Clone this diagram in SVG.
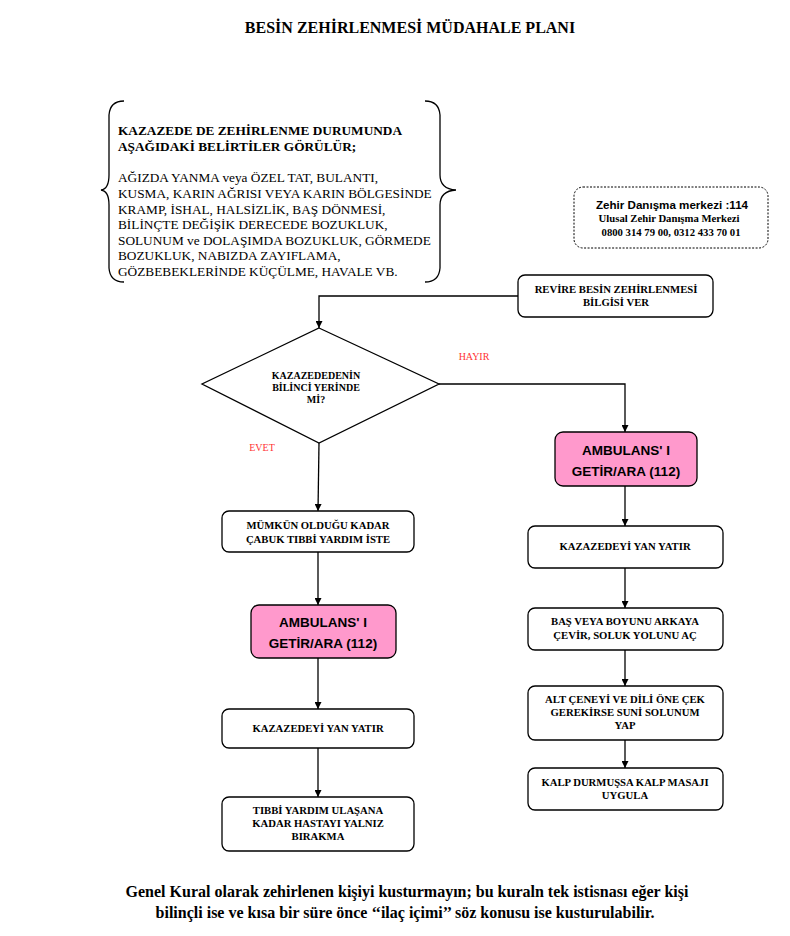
<svg xmlns="http://www.w3.org/2000/svg" width="790" height="936" viewBox="0 0 790 936">
<defs>
<marker id="arr" viewBox="0 0 10 10" refX="10" refY="5" markerWidth="7" markerHeight="7" orient="auto" markerUnits="userSpaceOnUse">
<path d="M0,0 L10,5 L0,10 z" fill="#000"/>
</marker>
<style>
.box{fill:#fff;stroke:#000;stroke-width:1.3}
.pink{fill:#ff99cc;stroke:#000;stroke-width:1.3}
.con{fill:none;stroke:#000;stroke-width:1.3;marker-end:url(#arr)}
.t{font-family:"Liberation Serif",serif;font-weight:bold;font-size:10.7px;text-anchor:middle;fill:#000}
.td{font-family:"Liberation Serif",serif;font-weight:bold;font-size:10px;text-anchor:middle;fill:#000}
.ts{font-family:"Liberation Sans",sans-serif;font-weight:bold;font-size:13.5px;text-anchor:middle;fill:#000}
.red{font-family:"Liberation Serif",serif;font-size:10px;fill:#ff3333;text-anchor:middle}
.body{font-family:"Liberation Serif",serif;font-size:13.3px;fill:#000}
</style>
</defs>
<text x="410" y="33" font-family="Liberation Serif, serif" font-weight="bold" font-size="16" text-anchor="middle">BESİN ZEHİRLENMESİ MÜDAHALE PLANI</text>

<g id="belirtiler">
<path d="M124,101 Q110,101 109,115 L109,175 Q109,189 101,190 Q109,191 109,205 L109,268 Q110,282 124,282" fill="none" stroke="#000" stroke-width="1.3"/>
<path d="M425,101 Q439,101 440,115 L440,175 Q440,189 456,190 Q440,191 440,205 L440,268 Q439,282 425,282" fill="none" stroke="#000" stroke-width="1.3"/>
<text class="body" font-weight="bold" x="118" y="135">KAZAZEDE DE ZEHİRLENME DURUMUNDA</text>
<text class="body" font-weight="bold" x="118" y="151">AŞAĞIDAKİ BELİRTİLER GÖRÜLÜR;</text>
<text class="body" x="118" y="182">AĞIZDA YANMA veya ÖZEL TAT, BULANTI,</text>
<text class="body" x="118" y="198">KUSMA, KARIN AĞRISI VEYA KARIN BÖLGESİNDE</text>
<text class="body" x="118" y="214">KRAMP, İSHAL, HALSİZLİK, BAŞ DÖNMESİ,</text>
<text class="body" x="118" y="229">BİLİNÇTE DEĞİŞİK DERECEDE BOZUKLUK,</text>
<text class="body" x="118" y="245">SOLUNUM ve DOLAŞIMDA BOZUKLUK, GÖRMEDE</text>
<text class="body" x="118" y="260">BOZUKLUK, NABIZDA ZAYIFLAMA,</text>
<text class="body" x="118" y="276">GÖZBEBEKLERİNDE KÜÇÜLME, HAVALE VB.</text>
</g>

<g id="zehir-danisma">
<rect x="574" y="187" width="194" height="61" rx="9" fill="#fff" stroke="#000" stroke-width="1" stroke-dasharray="2,1.5"/>
<text x="672" y="209" font-family="Liberation Sans, sans-serif" font-weight="bold" font-size="11.6" text-anchor="middle">Zehir Danışma merkezi :114</text>
<text x="669" y="222" class="t" font-size="10.9">Ulusal Zehir Danışma Merkezi</text>
<text x="671" y="236" class="t">0800 314 79 00, 0312 433 70 01</text>
</g>

<g id="connectors">
<path class="con" d="M518,296 H319 V328"/>
<path class="con" d="M439,384 H625 V432"/>
<path class="con" d="M319,443 L318,511"/>
<path class="con" d="M318,552 V605"/>
<path class="con" d="M318,658 V709"/>
<path class="con" d="M318,748 V797"/>
<path class="con" d="M625,486 V526"/>
<path class="con" d="M625,568 V608"/>
<path class="con" d="M625,650 V686"/>
<path class="con" d="M625,740 V768"/>
</g>

<g id="revire">
<rect class="box" x="518" y="275" width="195" height="42" rx="7"/>
<text class="t" x="616" y="293">REVİRE BESİN ZEHİRLENMESİ</text>
<text class="t" x="616" y="306">BİLGİSİ VER</text>
</g>

<g id="karar">
<polygon class="box" points="319,328 439,384 319,443 202,384"/>
<text class="td" x="316" y="379">KAZAZEDEDENİN</text>
<text class="td" x="316" y="391">BİLİNCİ YERİNDE</text>
<text class="td" x="316" y="403">Mİ?</text>
</g>
<text class="red" x="474" y="360">HAYIR</text>
<text class="red" x="262" y="451">EVET</text>

<g id="ambulans-sag">
<rect class="pink" x="555" y="432" width="142" height="54" rx="8"/>
<text class="ts" x="626" y="455">AMBULANS' I</text>
<text class="ts" x="626" y="476">GETİR/ARA (112)</text>
</g>

<g id="mumkun">
<rect class="box" x="222" y="511" width="192" height="41" rx="7"/>
<text class="t" x="318" y="529">MÜMKÜN OLDUĞU KADAR</text>
<text class="t" x="318" y="543">ÇABUK TIBBİ YARDIM İSTE</text>
</g>

<g id="ambulans-sol">
<rect class="pink" x="251" y="605" width="145" height="53" rx="8"/>
<text class="ts" x="323" y="627">AMBULANS' I</text>
<text class="ts" x="323" y="648">GETİR/ARA (112)</text>
</g>

<g id="yan-yatir-sol">
<rect class="box" x="222" y="709" width="192" height="39" rx="7"/>
<text class="t" x="318" y="732">KAZAZEDEYİ  YAN YATIR</text>
</g>

<g id="yalniz-birakma">
<rect class="box" x="222" y="797" width="192" height="54" rx="7"/>
<text class="t" x="318" y="814">TIBBİ YARDIM ULAŞANA</text>
<text class="t" x="318" y="827">KADAR HASTAYI YALNIZ</text>
<text class="t" x="318" y="840">BIRAKMA</text>
</g>

<g id="yan-yatir-sag">
<rect class="box" x="528" y="526" width="195" height="42" rx="7"/>
<text class="t" x="625" y="550">KAZAZEDEYİ  YAN YATIR</text>
</g>

<g id="bas-boyun">
<rect class="box" x="528" y="608" width="195" height="42" rx="7"/>
<text class="t" x="625" y="625">BAŞ VEYA BOYUNU ARKAYA</text>
<text class="t" x="625" y="639">ÇEVİR, SOLUK YOLUNU AÇ</text>
</g>

<g id="alt-cene">
<rect class="box" x="528" y="686" width="195" height="54" rx="7"/>
<text class="t" x="625" y="703">ALT ÇENEYİ VE DİLİ ÖNE ÇEK</text>
<text class="t" x="625" y="716">GEREKİRSE SUNİ SOLUNUM</text>
<text class="t" x="625" y="729">YAP</text>
</g>

<g id="kalp">
<rect class="box" x="528" y="768" width="195" height="42" rx="7"/>
<text class="t" x="625" y="786">KALP DURMUŞSA KALP MASAJI</text>
<text class="t" x="625" y="799">UYGULA</text>
</g>

<text x="407" y="897" font-family="Liberation Serif, serif" font-weight="bold" font-size="16" text-anchor="middle">Genel Kural olarak zehirlenen kişiyi kusturmayın; bu kuraln tek istisnası eğer kişi</text>
<text x="405" y="918" font-family="Liberation Serif, serif" font-weight="bold" font-size="16" text-anchor="middle">bilinçli ise ve kısa bir süre önce ‘‘ilaç içimi’’ söz konusu ise kusturulabilir.</text>
</svg>
